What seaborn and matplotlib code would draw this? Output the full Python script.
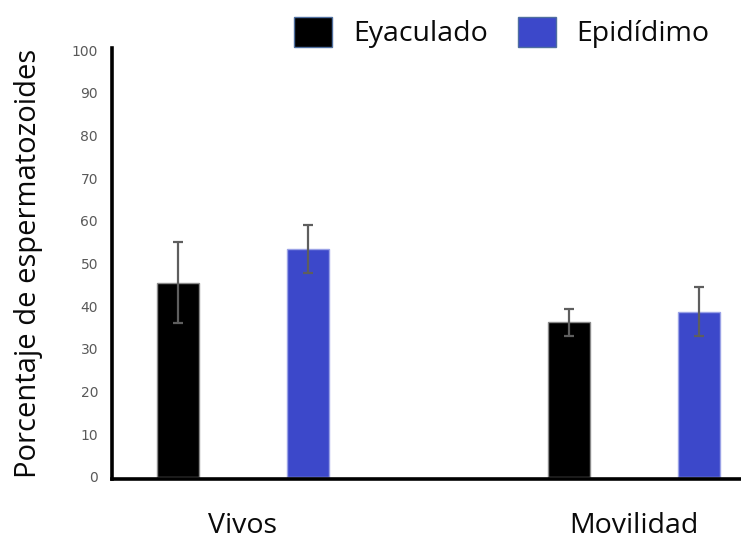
import matplotlib
matplotlib.use("Agg")
import matplotlib.pyplot as plt
import seaborn as sns
import pandas as pd
from matplotlib.container import BarContainer

# Chart data
categories = ["Vivos", "Movilidad"]
groups = ["Eyaculado", "Epidídimo"]
eyaculado_mean = [45.5, 36.2]
eyaculado_err = [9.5, 3.2]
epididimo_mean = [53.4, 38.7]
epididimo_err = [5.6, 5.7]
y_ticks = list(range(0, 101, 10))

palette = {"Eyaculado": "#000000", "Epidídimo": "#3C48CA"}
edge_colors = ["#8a8a8a", "#9aa2e6"]
errors = [eyaculado_err, epididimo_err]

df = pd.DataFrame({
    "categoria": categories * 2,
    "grupo": [groups[0]] * len(categories) + [groups[1]] * len(categories),
    "valor": eyaculado_mean + epididimo_mean,
})

sns.set_style("white")
big_font = ["Open Sans", "DejaVu Sans"]

fig = plt.figure(figsize=(7.41, 5.40), dpi=100)
ax = fig.add_axes([0.1511, 0.1133, 0.8489, 0.798])

sns.barplot(
    data=df, x="categoria", y="valor", hue="grupo",
    order=categories, hue_order=groups, palette=palette,
    width=0.667, gap=0.68, errorbar=None, ax=ax,
    linewidth=1.0, saturation=1,
)

# Edge colours and error bars per hue level
bar_containers = [c for c in ax.containers if isinstance(c, BarContainer)]
for i, cont in enumerate(bar_containers):
    for patch in cont.patches:
        patch.set_edgecolor(edge_colors[i])
        cx = patch.get_x() + patch.get_width() / 2
        j = int(round(cx))
        ax.errorbar(cx, patch.get_height(), yerr=errors[i][j],
                    fmt="none", ecolor="#5e5e5e", elinewidth=1.6,
                    capsize=3.6, capthick=1.6, zorder=5)

ax.set_xlim(-0.335, 1.274)
ax.set_ylim(-0.5, 100.5)
ax.set_yticks(y_ticks)
ax.set_yticklabels([str(t) for t in y_ticks], fontsize=10, color="#595959",
                   family="DejaVu Sans")
ax.set_xticks(range(len(categories)))
ax.set_xticklabels(categories, fontsize=20.5, family=big_font, color="#0a0a0a")
ax.tick_params(axis="both", length=0)
ax.tick_params(axis="y", pad=10)
ax.tick_params(axis="x", pad=24)
ax.set_xlabel("")
ax.set_ylabel("Porcentaje de espermatozoides", fontsize=21, family=big_font,
              color="#0a0a0a", labelpad=21)

for side in ["top", "right"]:
    ax.spines[side].set_visible(False)
for side in ["left", "bottom"]:
    ax.spines[side].set_linewidth(2.6)
    ax.spines[side].set_color("#000000")

handles, labels = ax.get_legend_handles_labels()
ax.get_legend().remove()
for h in handles:
    h.set_edgecolor("#4f6f9f")
    h.set_linewidth(1.0)
leg = fig.legend(handles, labels, loc="center left", bbox_to_anchor=(0.397, 0.94),
                 ncol=2, frameon=False, prop={"family": big_font, "size": 20.5},
                 handlelength=1.33, handleheight=1.25, handletextpad=0.74,
                 columnspacing=1.05, borderaxespad=0, borderpad=0)
for t in leg.get_texts():
    t.set_color("#0a0a0a")

fig.savefig("out.png", dpi=100)
